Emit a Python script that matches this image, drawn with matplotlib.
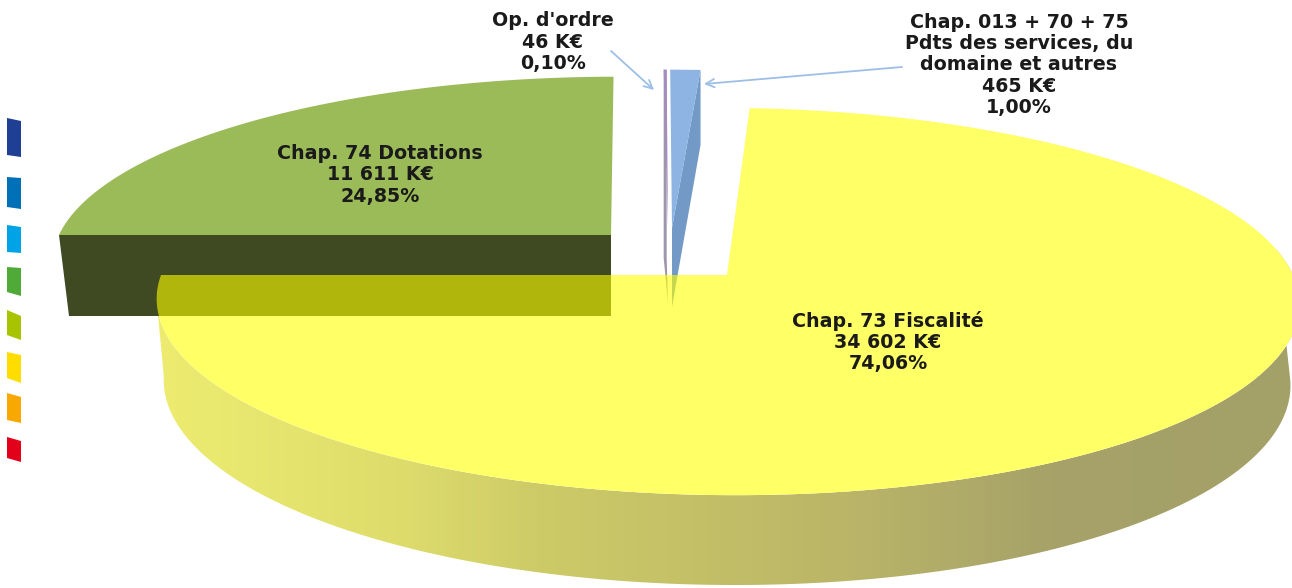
#!/usr/bin/env python3
"""Exploded 3D-look pie of the revenue chapters (K€), drawn in pixel coordinates."""

import numpy as np
import matplotlib
matplotlib.use('Agg')
import matplotlib.pyplot as plt
from matplotlib.colors import LinearSegmentedColormap
from matplotlib.patches import Polygon

# ── Data ──
slice_names = ['yellow', 'blue', 'purple', 'green']
slice_values = [34602, 465, 46, 11611]
labels = [
    "Chap. 73 Fiscalité\n34 602 K€\n74,06%",
    "Chap. 013 + 70 + 75\nPdts des services, du\ndomaine et autres\n465 K€\n1,00%",
    "Op. d'ordre\n46 K€\n0,10%",
    "Chap. 74 Dotations\n11 611 K€\n24,85%",
]
swatch_colors = ['#1F3F94', '#0070B8', '#00A3E6', '#4FAA38',
                 '#A8C400', '#FFDD00', '#F8A800', '#E2001A']

# ── Projection / layout ──
W, H = 1292, 588
VX = 670      # vanishing x
K = 0.137     # perspective strength
START = 180.0 # first slice starts here, going counter-clockwise

# cx, cy, rx, ry of each exploded slice's top face
GEOM = {
    'yellow': (727, 275, 566, 190),
    'blue':   (672, 228, 552, 180),
    'purple': (668, 228, 552, 180),
    'green':  (611, 235, 552, 180),
}
YELLOW_RIM = (726, 355, 558, 198.5)  # lower rim of the yellow wall
SWATCHES = [
    (118, 155, 121, 157), (177, 207, 178, 209), (225, 252, 227, 253),
    (267, 292, 268, 296), (310, 335, 316, 340), (352, 378, 355, 383),
    (393, 420, 397, 423), (437, 458, 441, 462),
]


def project(theta, cx, cy, rx, ry):
    u, v = np.cos(np.radians(theta)), np.sin(np.radians(theta))
    scale = 1.0 / (1.0 + K * v)
    return VX + (cx - VX + rx * u) * scale, cy - ry * v * scale


def face(theta1, theta2, geom):
    t = np.linspace(theta1, theta2, 300)
    x, y = project(t, *geom)
    return np.column_stack([np.r_[geom[0], x], np.r_[geom[1], y]])


def main():
    fig = plt.figure(figsize=(W / 100, H / 100), dpi=100)
    ax = fig.add_axes([0, 0, 1, 1])

    # slice angles from the values
    shares = np.array(slice_values, dtype=float) / sum(slice_values) * 360.0
    edges = START + np.r_[0, np.cumsum(shares)]
    angles = {n: (edges[i], edges[i + 1]) for i, n in enumerate(slice_names)}

    # yellow side wall with horizontal shading
    cmap = LinearSegmentedColormap.from_list(
        'wall', [(0.0, '#EDEC70'), (0.21, '#DEDD6C'), (0.335, '#CDCB67'),
                 (0.61, '#BAB568'), (0.79, '#A6A268'), (1.0, '#A3A068')])
    gy = GEOM['yellow']
    xt, yt = project(np.linspace(188, 368, 400), *gy)
    xb, yb = project(np.linspace(186, 354, 400), *YELLOW_RIM)
    wall = Polygon(np.column_stack([np.r_[xt, xb[::-1]], np.r_[yt, yb[::-1]]]),
                   closed=True, facecolor='none', edgecolor='none', zorder=1)
    ax.add_patch(wall)
    im = ax.imshow(np.linspace(0, 1, 256)[None, :], cmap=cmap, aspect='auto',
                   extent=[157, 1292, H, 0], zorder=1)
    im.set_clip_path(wall)

    # white mask so the wall never shows through the translucent yellow face
    y_face = face(*angles['yellow'], gy)
    ax.add_patch(Polygon(y_face, closed=True, fc='white', ec='none', zorder=2))

    # green side wall, seen from the cut edge
    g = GEOM['green']
    a = angles['green']
    x_left, y_left = project(a[1], *g)
    dark = np.array([[x_left, y_left], [x_left + 10, y_left + 81],
                     [g[0], g[1] + 81], [g[0], g[1]]])
    ax.add_patch(Polygon(dark, closed=True, fc='#3F4A22', ec='none', zorder=3))
    ax.add_patch(Polygon(face(*a, g), closed=True, fc='#9BBB59', ec='none', zorder=4))

    # blue and purple slivers with their walls
    b = GEOM['blue']
    a = angles['blue']
    x_r, y_r = project(a[0], *b)
    ax.add_patch(Polygon([[x_r, y_r], [x_r, y_r + 75], [b[0], b[1] + 79], [b[0], b[1]]],
                         closed=True, fc='#7399C6', ec='none', zorder=3))
    ax.add_patch(Polygon(face(*a, b), closed=True, fc='#8DB4E2', ec='none', zorder=4))

    p = GEOM['purple']
    a = angles['purple']
    x_r, y_r = project(a[0], *p)
    x_l, y_l = project(a[1], *p)
    ax.add_patch(Polygon([[x_l, y_l], [x_r, y_r], [x_r, p[1] + 30], [p[0], p[1] + 75],
                          [x_l, p[1] + 30]],
                         closed=True, fc='#9E96AC', ec='none', zorder=3))
    ax.add_patch(Polygon(face(*a, p), closed=True, fc='#A68CC0', ec='none', zorder=4))

    # translucent yellow top face over everything behind it
    ax.add_patch(Polygon(y_face, closed=True, fc='#FFFF00', ec='none',
                         alpha=0.6, zorder=5))

    # legend keys with the labels cropped away
    for (top_l, bot_l, top_r, bot_r), col in zip(SWATCHES, swatch_colors):
        ax.add_patch(Polygon([[7, top_l], [21, top_r], [21, bot_r], [7, bot_l]],
                             closed=True, fc=col, ec='none', zorder=2))

    # labels
    txt = dict(ha='center', va='center', fontsize=13.7, fontweight='bold',
               color='#1A1A1A', family='DejaVu Sans', linespacing=1.16, zorder=7)
    ax.text(888, 342, labels[0], **txt)
    ax.text(1019, 65, labels[1], **txt)
    ax.text(553, 42, labels[2], **txt)
    ax.text(380, 175, labels[3], **txt)

    # leader arrows
    arrow = dict(arrowstyle='->', color='#9DBFE6', lw=1.3, mutation_scale=15,
                 shrinkA=0, shrinkB=0)
    ax.annotate('', xy=(654, 90), xytext=(611, 51), arrowprops=arrow, zorder=6)
    ax.annotate('', xy=(704, 84), xytext=(902, 67), arrowprops=arrow, zorder=6)

    ax.set_xlim(0, W)
    ax.set_ylim(H, 0)
    ax.axis('off')
    fig.savefig('out.png', dpi=100, facecolor='white')
    plt.close(fig)


if __name__ == '__main__':
    main()
